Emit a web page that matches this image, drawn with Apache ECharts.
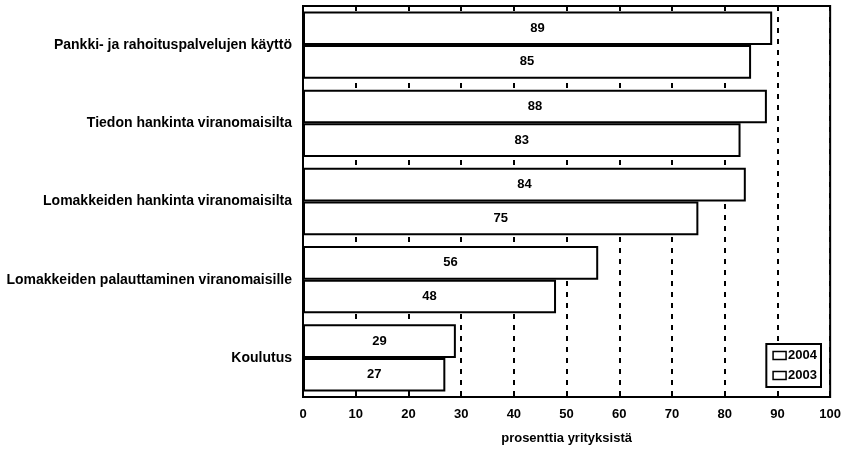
<!DOCTYPE html>
<html><head><meta charset="utf-8">
<script src="https://cdn.jsdelivr.net/npm/echarts@6/dist/echarts.min.js"></script>
<style>html,body{margin:0;padding:0;background:#fff}#c{width:844px;height:452px}</style>
</head><body><div id="c"></div>
<script>
const categories = [
  "Pankki- ja rahoituspalvelujen käyttö",
  "Tiedon hankinta viranomaisilta",
  "Lomakkeiden hankinta viranomaisilta",
  "Lomakkeiden palauttaminen viranomaisille",
  "Koulutus"
];
const values2004 = [89, 88, 84, 56, 29];
const values2003 = [85, 83, 75, 48, 27];
const seriesNames = ["2004", "2003"];
const xTicks = [0, 10, 20, 30, 40, 50, 60, 70, 80, 90, 100];
const xAxisName = "prosenttia yrityksistä";

const font = "'Liberation Sans', Arial, sans-serif";
const chart = echarts.init(document.getElementById('c'));
const barStyle = { color: '#fff', borderColor: '#000', borderWidth: 2 };
const lbl = { show: true, position: 'inside', color: '#000', fontSize: 13, fontWeight: 'bold', fontFamily: font };
chart.setOption({
  animation: false,
  textStyle: { fontFamily: font },
  grid: { left: 303, right: 11, top: 6, bottom: 55, show: true, borderColor: '#000', borderWidth: 2, containLabel: false },
  legend: {
    data: seriesNames, orient: 'vertical', right: 23, bottom: 65,
    borderColor: '#000', borderWidth: 2, padding: [5, 4, 5, 6], itemGap: 7,
    icon: 'rect', itemWidth: 13, itemHeight: 8, itemStyle: { color: '#fff', borderColor: '#000', borderWidth: 1.5 },
    textStyle: { color: '#000', fontSize: 13, fontWeight: 'bold', padding: [0, 0, 0, -3] }, backgroundColor: '#fff'
  },
  xAxis: {
    type: 'value', min: xTicks[0], max: xTicks[xTicks.length - 1], interval: 10,
    name: xAxisName, nameLocation: 'middle', nameGap: 35,
    nameTextStyle: { color: '#000', fontSize: 13, fontWeight: 'bold' },
    axisLine: { show: false },
    axisTick: { show: true, inside: true, length: 4, lineStyle: { color: '#000', width: 1.5 } },
    axisLabel: { color: '#000', fontSize: 13, fontWeight: 'bold', margin: 11 },
    splitLine: { show: true, lineStyle: { color: '#000', type: [5, 6], width: 2 } }
  },
  yAxis: {
    type: 'category', data: categories, inverse: true,
    axisLine: { show: false }, axisTick: { show: false },
    axisLabel: { color: '#000', fontSize: 14, fontWeight: 'bold', margin: 11 }
  },
  series: [
    { name: seriesNames[0], type: 'bar', data: values2004, itemStyle: barStyle, label: lbl, barGap: '0%', barCategoryGap: '14%', z: 3 },
    { name: seriesNames[1], type: 'bar', data: values2003, itemStyle: barStyle, label: lbl, z: 3 }
  ]
});
</script></body></html>
